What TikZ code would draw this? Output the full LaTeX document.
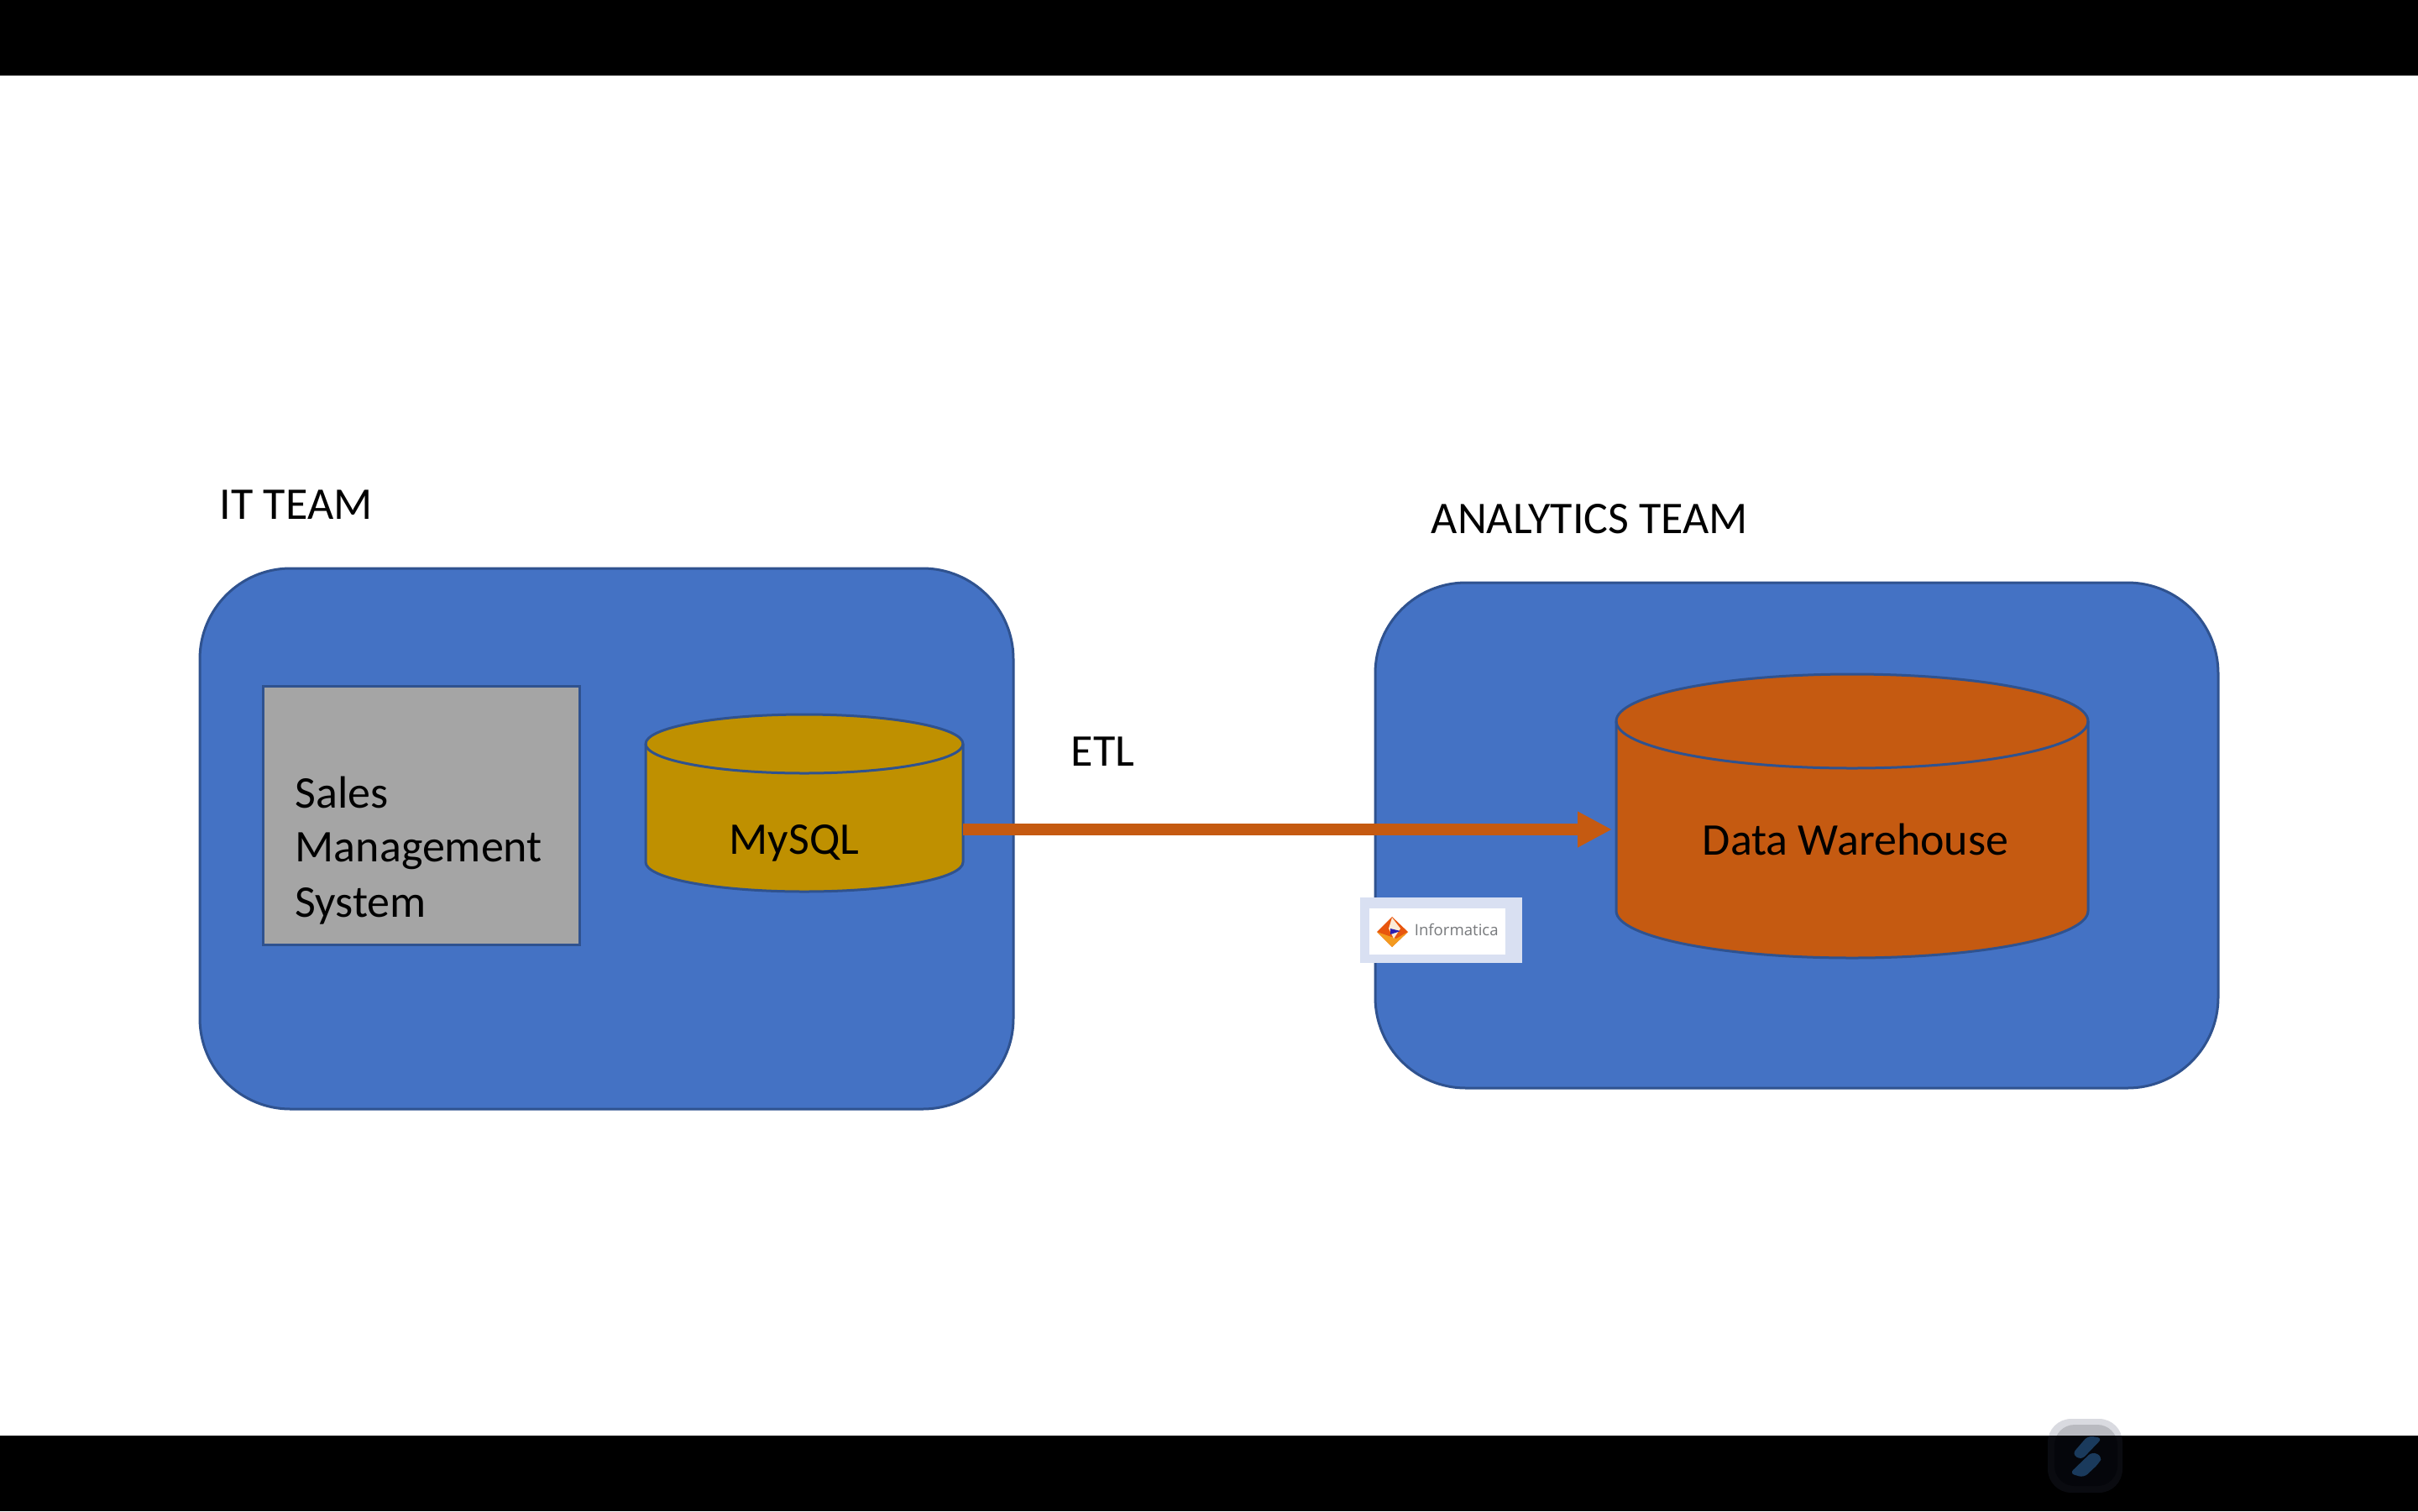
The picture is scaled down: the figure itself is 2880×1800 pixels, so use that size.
\documentclass[tikz,border=0pt]{standalone}
\usepackage{fontspec}
\setmainfont{Carlito}
\newfontfamily\logofont{Open Sans}
\usetikzlibrary{arrows.meta}
\definecolor{boxblue}{HTML}{4472C4}
\definecolor{edgeblue}{HTML}{2F528F}
\definecolor{smsgray}{HTML}{A5A5A5}
\definecolor{gold}{HTML}{BF9000}
\definecolor{burnt}{HTML}{C55A11}
\definecolor{logoframe}{HTML}{D9E0F2}
\definecolor{logotext}{HTML}{77797C}
\definecolor{logored}{HTML}{E8560E}
\definecolor{logoamber}{HTML}{F39A1F}
\definecolor{logocream}{HTML}{FBEBD8}
\definecolor{logoblue}{HTML}{2A1FB0}
\definecolor{wmring}{HTML}{D9DAE0}
\definecolor{wminner}{HTML}{B9BAC0}
\definecolor{wmdark}{HTML}{0A0B10}
\definecolor{wmdarker}{HTML}{05060B}
\definecolor{wmblue}{HTML}{1A3A5C}
\tikzset{
  x=0.25pt,y=-0.25pt,
  team/.style={rounded corners=27pt,fill=boxblue,draw=edgeblue,line width=0.75pt},
  cyl/.style={draw=edgeblue,line width=0.75pt,line join=round},
  label/.style={anchor=base west,inner sep=0pt,font=\fontsize{13.5pt}{16.25pt}\selectfont},
  clabel/.style={anchor=base,inner sep=0pt,font=\fontsize{13.5pt}{16.25pt}\selectfont},
}
\begin{document}
\begin{tikzpicture}
\useasboundingbox (0,0) rectangle (2880,1800);
\fill[white] (0,0) rectangle (2880,1800);
\fill[black] (0,0) rectangle (2880,90);
\fill[black] (0,1710) rectangle (2880,1800);
% team panels
\draw[team] (238,677) rectangle (1207,1321);
\draw[team] (1638,694) rectangle (2642,1296);
% sales box
\draw[fill=smsgray,draw=edgeblue,line width=0.75pt] (313.5,817) rectangle (690.5,1125.5);
% MySQL cylinder
\draw[cyl,fill=gold] (769,886) -- (769,1027) arc[x radius=189,y radius=35,start angle=180,end angle=0] -- (1147,886) arc[x radius=189,y radius=35,start angle=0,end angle=-180] -- cycle;
\draw[cyl] (769,886) arc[x radius=189,y radius=35,start angle=180,end angle=0];
% DW cylinder
\draw[cyl,fill=burnt] (1925,859) -- (1925,1085) arc[x radius=281,y radius=56,start angle=180,end angle=0] -- (2487,859) arc[x radius=281,y radius=56,start angle=0,end angle=-180] -- cycle;
\draw[cyl] (1925,859) arc[x radius=281,y radius=56,start angle=180,end angle=0];
% connector
\coordinate (mysqlport) at (1147,988);
\coordinate (dwport) at (1920,988);
\draw[burnt,line width=3.5pt,-{Triangle[length=10.25pt,width=10pt]}] (mysqlport) -- (dwport);
% texts
\node[label] (itteam) at (261,618) {IT TEAM};
\node[label] (anteam) at (1704,635) {ANALYTICS TEAM};
\node[label] (etl) at (1275,912) {ETL};
\node[label] (sales1) at (351,962) {Sales};
\node[label] (sales2) at (351,1026) {Management};
\node[label] (sales3) at (351,1092) {System};
\node[clabel] (mysql) at (946,1017) {MySQL};
\node[clabel] (dw) at (2210,1018) {Data Warehouse};
% informatica badge
\fill[logoframe] (1620,1069) rectangle (1813,1147);
\fill[white] (1631,1082) rectangle (1793,1137);
\fill[logored] (1640,1110) -- (1658,1092) -- (1677,1110) -- (1658,1128) -- cycle;
\fill[logoamber] (1640,1110) -- (1658,1128) -- (1677,1110) -- (1663,1118) -- cycle;
\fill[logocream] (1654,1106) -- (1658,1093) -- (1668,1106) -- (1660,1118) -- cycle;
\fill[logoblue] (1656,1106) -- (1668,1109) -- (1656,1113) -- cycle;
\node[anchor=base west,inner sep=0pt,text=logotext,font=\logofont\fontsize{4.65pt}{5pt}\selectfont] (informatica) at (1684,1114) {Informatica};
% watermark
\begin{scope}
\clip (2400,1660) rectangle (2580,1710);
\fill[wmring,rounded corners=7pt] (2439,1690) rectangle (2528,1778);
\fill[wminner,rounded corners=6pt] (2447,1697) rectangle (2522,1770);
\end{scope}
\begin{scope}
\clip (2400,1710) rectangle (2580,1800);
\fill[wmdark,rounded corners=7pt] (2439,1690) rectangle (2528,1778);
\fill[wmdarker,rounded corners=6pt] (2447,1697) rectangle (2522,1770);
\end{scope}
\fill[wmblue,rounded corners=1.5pt] (2487,1710) -- (2504,1713) -- (2479,1739) -- (2468,1732) -- cycle;
\fill[wmblue,rounded corners=1.5pt] (2492,1729) -- (2504,1735) -- (2500,1743) -- (2482,1760) -- (2465,1755) -- cycle;
\end{tikzpicture}
\end{document}
